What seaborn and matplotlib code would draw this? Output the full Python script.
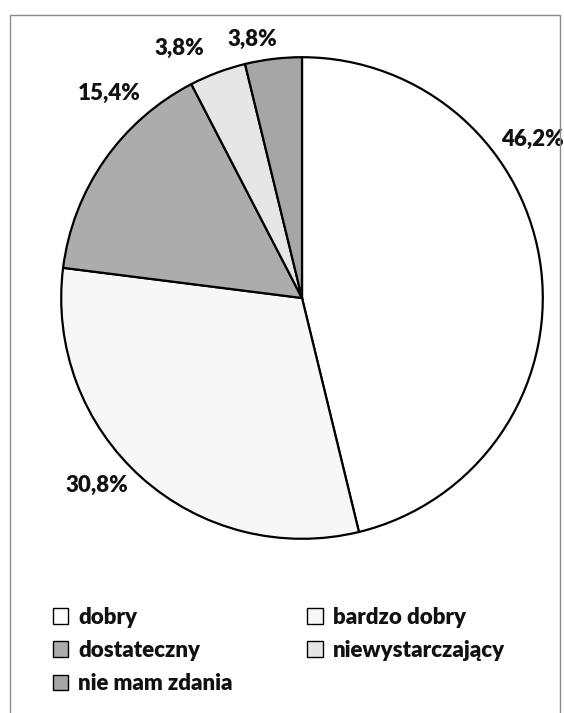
import matplotlib
matplotlib.use("Agg")
import matplotlib.pyplot as plt
from matplotlib.patches import Patch, Rectangle
import seaborn as sns

# data
categories = ["dobry", "bardzo dobry", "dostateczny", "niewystarczający", "nie mam zdania"]
values = [46.2, 30.8, 15.4, 3.8, 3.8]
pct_labels = ["46,2%", "30,8%", "15,4%", "3,8%", "3,8%"]

colors = ["#ffffff", "#f7f7f7", "#acacac", "#e6e6e6", "#a6a6a6"]
# label positions (data coords, pie radius = 1)
label_pos = [(0.955, 0.66), (-0.85, -0.78), (-0.80, 0.85), (-0.51, 1.037), (-0.205, 1.074)]

sns.set_style("white")
plt.rcParams["font.family"] = ["Lato", "DejaVu Sans"]

fig = plt.figure(figsize=(5.64, 7.13), dpi=100)
fig.patch.set_facecolor("white")

# outer frame
fig.add_artist(Rectangle((10 / 564, -0.01), 550 / 564, 1 - 15 / 713 + 0.01,
                         transform=fig.transFigure, fill=False,
                         edgecolor="#8a8a8a", linewidth=1.0))

ax = fig.add_axes([60 / 564, (713 - 298 - 242) / 713, 484 / 564, 484 / 713])
wedges, _ = ax.pie(values, colors=colors, startangle=90, counterclock=False,
                   radius=1.0,
                   wedgeprops=dict(edgecolor="black", linewidth=1.6))
ax.set_xlim(-1.005, 1.005)
ax.set_ylim(-1.005, 1.005)
ax.set_aspect("equal")
ax.axis("off")

for lab, (x, y) in zip(pct_labels, label_pos):
    ax.text(x, y, lab, ha="center", va="center", fontsize=16,
            fontweight="heavy", color="#111111", clip_on=False)

# legend: column-major order in matplotlib
order = [0, 2, 4, 1, 3]
handles = [Patch(facecolor=colors[i], edgecolor="black", linewidth=1.0) for i in order]
labels = [categories[i] for i in order]
fig.legend(handles, labels, loc="upper left", bbox_to_anchor=(37 / 564, 1 - 591 / 713),
           ncol=2, frameon=False, prop=dict(weight="heavy", size=16),
           handlelength=0.7, handleheight=0.7, handletextpad=0.45,
           columnspacing=3.35, labelspacing=0.56, borderpad=0.2,
           labelcolor="#111111")

fig.savefig("out.png", dpi=100, facecolor="white")
